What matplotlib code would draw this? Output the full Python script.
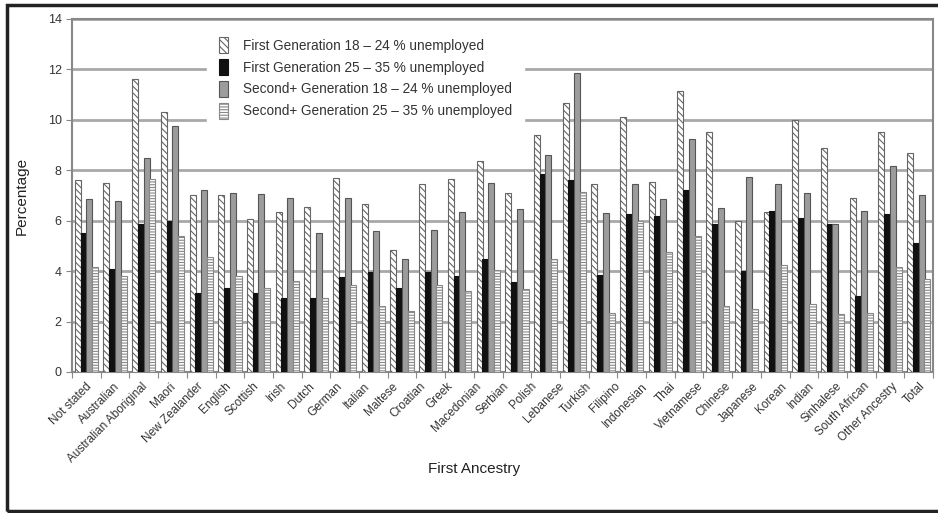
import matplotlib.pyplot as plt
import numpy as np
from matplotlib.patches import Rectangle

plt.rcParams["font.family"] = ["Liberation Sans", "DejaVu Sans"]
plt.rcParams["hatch.linewidth"] = 0.8

# 31 names under the axis, as printed
ancestry = ["Not stated", "Australian", "Australian Aboriginal", "Maori", "New Zealander",
            "English", "Scottish", "Irish", "Dutch", "German", "Italian", "Maltese",
            "Croatian", "Greek", "Macedonian", "Serbian", "Polish", "Lebanese", "Turkish",
            "Filipino", "Indonesian", "Thai", "Vietnamese", "Chinese", "Japanese", "Korean",
            "Indian", "Sinhalese", "South African", "Other Ancestry", "Total"]

# % unemployed (30 groups of bars are drawn)
first_18_24 = [7.6, 7.5, 11.6, 10.3, 7.0, 7.0, 6.05, 6.35, 6.55, 7.7, 6.65, 4.85, 7.45,
               7.65, 8.35, 7.1, 9.4, 10.65, 7.45, 10.1, 7.55, 11.15, 9.5, 6.0, 6.35,
               10.0, 8.9, 6.9, 9.5, 8.7]
first_25_35 = [5.5, 4.1, 5.85, 6.0, 3.15, 3.35, 3.15, 2.95, 2.95, 3.75, 3.95, 3.35, 3.95,
               3.8, 4.5, 3.55, 7.85, 7.6, 3.85, 6.25, 6.2, 7.2, 5.85, 4.0, 6.4,
               6.1, 5.85, 3.0, 6.25, 5.1]
second_18_24 = [6.85, 6.8, 8.5, 9.75, 7.2, 7.1, 7.05, 6.9, 5.5, 6.9, 5.6, 4.5, 5.65,
                6.35, 7.5, 6.45, 8.6, 11.85, 6.3, 7.45, 6.85, 9.25, 6.5, 7.75, 7.45,
                7.1, 5.85, 6.4, 8.15, 7.0]
second_25_35 = [4.15, 3.8, 7.65, 5.4, 4.55, 3.8, 3.35, 3.6, 2.95, 3.45, 2.6, 2.4, 3.45,
                3.2, 4.05, 3.3, 4.5, 7.15, 2.35, 6.0, 4.75, 5.4, 2.6, 2.5, 4.25,
                2.7, 2.3, 2.35, 4.15, 3.7]

fig = plt.figure(figsize=(9.38, 5.13), dpi=100)
ax = fig.add_axes([0.0768, 0.2749, 0.9179, 0.6881])

ngroups = len(first_18_24)
x = np.arange(ngroups) + 0.5
w = 0.21
ax.bar(x - 0.3, first_18_24, w, facecolor="white", edgecolor="#666666", hatch="\\\\\\\\\\",
       linewidth=0.8, label="First Generation 18 \u2013 24 % unemployed", zorder=3)
ax.bar(x - 0.1, first_25_35, w, facecolor="#111111", edgecolor="#111111",
       linewidth=0.8, label="First Generation 25 \u2013 35 % unemployed", zorder=3)
ax.bar(x + 0.1, second_18_24, w, facecolor="#9c9c9c", edgecolor="#555555",
       linewidth=0.8, label="Second+ Generation 18 \u2013 24 % unemployed", zorder=3)
ax.bar(x + 0.3, second_25_35, w, facecolor="white", edgecolor="#888888", hatch="------",
       linewidth=0.8, label="Second+ Generation 25 \u2013 35 % unemployed", zorder=3)

ax.set_xlim(0, ngroups)
ax.set_ylim(0, 14)
ax.set_yticks(np.arange(0, 15, 2))
ax.yaxis.grid(True, color="#a8a8a8", linewidth=2, zorder=0)
ax.set_axisbelow(True)

# tick marks between the bar groups, names spread evenly along the axis
ax.xaxis.remove_overlapping_locs = False
ax.set_xticks(np.arange(ngroups + 1))
ax.set_xticklabels([])
label_pos = (np.arange(len(ancestry)) + 0.5) * ngroups / len(ancestry)
ax.set_xticks(label_pos, minor=True)
ax.set_xticklabels(ancestry, minor=True, rotation=45, ha="right", rotation_mode="anchor",
                   fontsize=8.5, color="#333333")
ax.tick_params(axis="x", which="minor", length=0, pad=6)
ax.tick_params(axis="x", which="major", length=4, color="#888888")
ax.tick_params(axis="y", length=4, color="#888888", labelsize=9, labelcolor="#333333")

for s in ax.spines.values():
    s.set_color("#888888")
    s.set_linewidth(1.5)

ax.set_ylabel("Percentage", fontsize=11, color="#222222")
ax.yaxis.set_label_coords(-0.05, 0.5)
ax.set_xlabel("First Ancestry", fontsize=11, color="#222222")
ax.xaxis.set_label_coords(0.467, -0.255)

leg = ax.legend(loc="upper left", bbox_to_anchor=(0.149, 1.002), fontsize=9.8,
                handlelength=0.6, handleheight=1.4, handletextpad=1.1, labelspacing=0.45,
                frameon=True, fancybox=False, borderpad=0.9)
leg.get_frame().set_edgecolor("white")
leg.get_frame().set_facecolor("white")
leg.get_frame().set_alpha(1)
for t in leg.get_texts():
    t.set_color("#333333")

# outer frame round the whole picture
fig.patches.append(Rectangle((0.0075, 0.004), 1.0, 0.987, transform=fig.transFigure,
                             fill=False, edgecolor="#222222", linewidth=2.5))

fig.savefig("out.png", dpi=100)
